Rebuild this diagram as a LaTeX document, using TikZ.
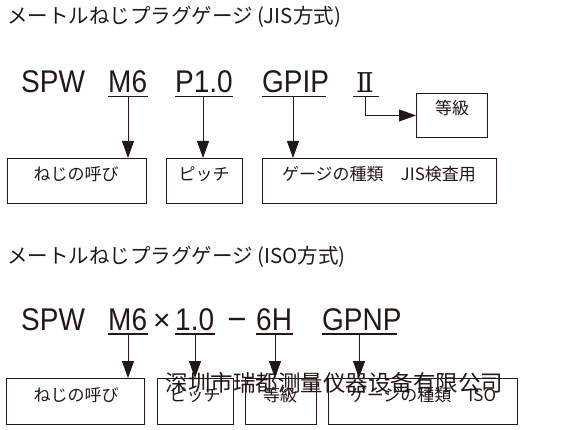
\documentclass[tikz,border=0pt]{standalone}
\usepackage{fontspec}
\setmainfont{Liberation Sans}
\newfontfamily\jpfont{Noto Sans CJK JP}
\newfontfamily\scfont{Noto Sans CJK SC}
\newfontfamily\romfont{DejaVu Serif}
\usetikzlibrary{arrows.meta}
\definecolor{ink}{HTML}{231815}
\tikzset{
  title/.style={anchor=west,inner sep=0pt,font=\jpfont\fontsize{20.5}{20.5}\selectfont,text=ink},
  code/.style={anchor=base west,inner sep=0pt,font=\fontsize{28}{28}\selectfont,text=ink,yscale=1.12,transform shape},
  sym/.style={anchor=base,inner sep=0pt,font=\fontsize{30}{30}\selectfont,text=ink},
  uline/.style={draw=ink,line width=1.1pt},
  arr/.style={draw=ink,line width=0.9pt,-{Triangle[length=17pt,width=12pt]}},
  box/.style={draw=ink,line width=0.9pt},
  lbl/.style={inner sep=0pt,font=\jpfont\fontsize{17}{17}\selectfont,text=ink},
  wm/.style={inner sep=0pt,font=\scfont\fontsize{22.5}{22.5}\selectfont,text=ink}
}
\begin{document}
\begin{tikzpicture}[x=1pt,y=-1pt]
\useasboundingbox (0,0) rectangle (570,430);
% ---------- JIS ----------
\node[title] (t1) at (7,17) {メートルねじプラグゲージ (JIS方式)};
\node[code] (s1) at (21,92.7) {SPW};
\node[code] (m1) at (108,92.7) {M6};
\node[code] (p1) at (175,92.7) {P1.0};
\node[code] (g1) at (262,92.7) {GPIP};
\node[anchor=base,inner sep=0pt,font=\romfont\fontsize{26}{26}\selectfont,text=ink,yscale=1.05,transform shape] (r1) at (365,92.7) {Ⅱ};
\coordinate (um1a) at (108,96.7); \coordinate (um1b) at (148,96.7); \coordinate (um1) at (128,96.7);
\coordinate (up1a) at (175,96.7); \coordinate (up1b) at (233,96.7); \coordinate (up1) at (203,96.7);
\coordinate (ug1a) at (262,96.7); \coordinate (ug1b) at (326,96.7); \coordinate (ug1) at (293,96.7);
\coordinate (ur1a) at (353,96.7); \coordinate (ur1b) at (379,96.7); \coordinate (ur1) at (365,96.7);
\draw[uline] (um1a) -- (um1b);
\draw[uline] (up1a) -- (up1b);
\draw[uline] (ug1a) -- (ug1b);
\draw[uline] (ur1a) -- (ur1b);
\node[box,minimum width=139pt,minimum height=45pt,anchor=north west,inner sep=0pt] (b11) at (7,158) {};
\node[box,minimum width=76pt,minimum height=45pt,anchor=north west,inner sep=0pt] (b12) at (166,158) {};
\node[box,minimum width=234pt,minimum height=45pt,anchor=north west,inner sep=0pt] (b13) at (262,158) {};
\node[box,minimum width=71pt,minimum height=44pt,anchor=north west,inner sep=0pt] (b14) at (416,93) {};
\node[lbl] (l11) at (76,174) {ねじの呼び};
\node[lbl] (l12) at (204,174) {ピッチ};
\node[lbl] (l13) at (379,174) {ゲージの種類　JIS検査用};
\node[lbl] (l14) at (452,108) {等級};
\draw[arr] (um1) -- (um1 |- b11.north);
\draw[arr] (up1) -- (up1 |- b12.north);
\draw[arr] (ug1) -- (ug1 |- b13.north);
\draw[arr] (ur1) |- (b14.west);
% ---------- ISO ----------
\node[title] (t2) at (7,257) {メートルねじプラグゲージ (ISO方式)};
\node[code] (s2) at (21,330) {SPW};
\node[code] (m2) at (108,330) {M6};
\node[sym] (x2) at (162,330) {×};
\node[code] (p2) at (175,330) {1.0};
\node[sym,font=\fontsize{33}{33}\selectfont] (d2) at (237,330) {−};
\node[code] (h2) at (256,330) {6H};
\node[code] (g2) at (322,330) {GPNP};
\coordinate (um2a) at (108,334); \coordinate (um2b) at (148,334); \coordinate (um2) at (128,334);
\coordinate (up2a) at (175,334); \coordinate (up2b) at (215,334); \coordinate (up2) at (195,334);
\coordinate (uh2a) at (256,334); \coordinate (uh2b) at (293,334); \coordinate (uh2) at (275,334);
\coordinate (ug2a) at (322,334); \coordinate (ug2b) at (397,334); \coordinate (ug2) at (359,334);
\draw[uline] (um2a) -- (um2b);
\draw[uline] (up2a) -- (up2b);
\draw[uline] (uh2a) -- (uh2b);
\draw[uline] (ug2a) -- (ug2b);
\node[box,minimum width=138pt,minimum height=46pt,anchor=north west,inner sep=0pt] (b21) at (6,378) {};
\node[box,minimum width=76pt,minimum height=46pt,anchor=north west,inner sep=0pt] (b22) at (157,378) {};
\node[box,minimum width=71pt,minimum height=46pt,anchor=north west,inner sep=0pt] (b23) at (245,378) {};
\node[box,minimum width=189pt,minimum height=46pt,anchor=north west,inner sep=0pt] (b24) at (328,378) {};
\node[lbl] (l21) at (76,395) {ねじの呼び};
\node[lbl] (l22) at (195,395) {ピッチ};
\node[lbl] (l23) at (280,395) {等級};
\node[lbl] (l24) at (423,395) {ゲージの種類　ISO};
\draw[arr] (um2) -- (um2 |- b21.north);
\draw[arr] (up2) -- (up2 |- b22.north);
\draw[arr] (uh2) -- (uh2 |- b23.north);
\draw[arr] (ug2) -- (ug2 |- b24.north);
\node[wm] (w) at (334.5,383) {深圳市瑞都测量仪器设备有限公司};
\end{tikzpicture}
\end{document}
